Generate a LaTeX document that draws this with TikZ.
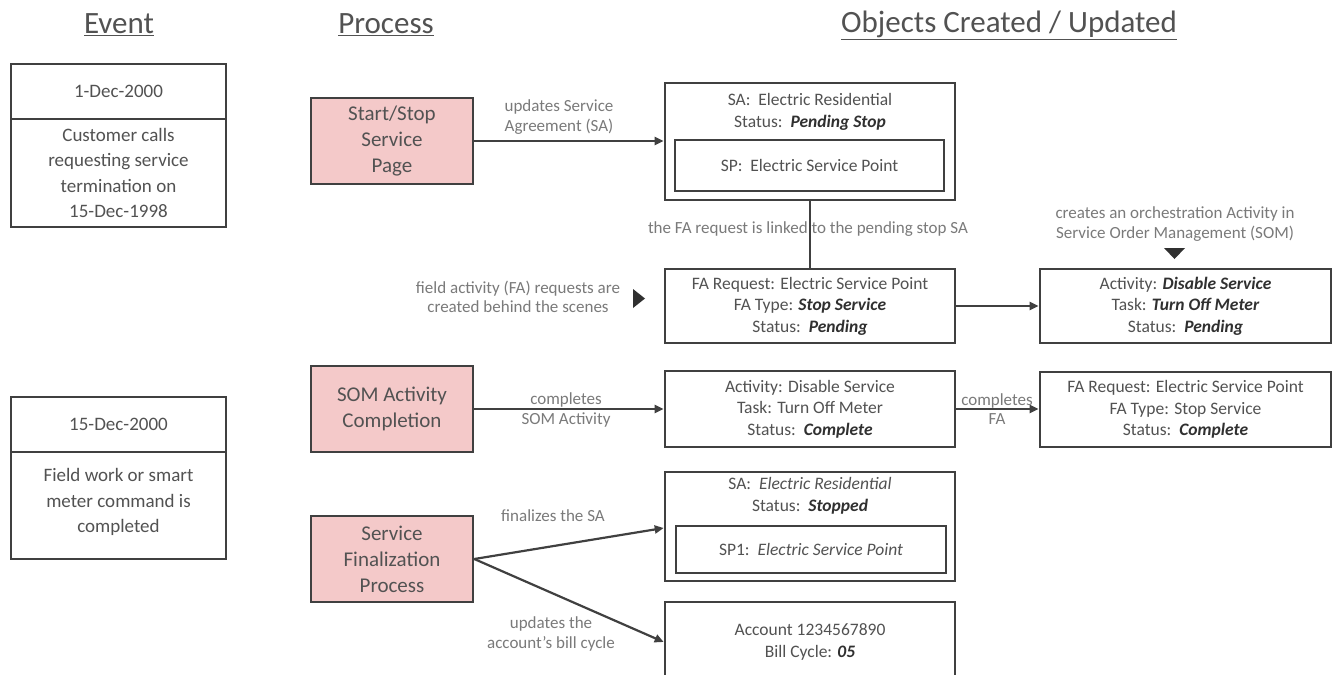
\documentclass[tikz,border=0pt]{standalone}
\usepackage{fontspec}
\setmainfont{Carlito}
\usetikzlibrary{arrows.meta,calc}
\definecolor{pinkfill}{HTML}{F4C9C9}
\definecolor{edgegray}{HTML}{404040}
\definecolor{txtgray}{HTML}{525252}
\definecolor{lblgray}{HTML}{7A7A7A}
\definecolor{darkgray}{HTML}{303030}
\newcommand{\hiit}[1]{\textcolor{darkgray}{\textbf{\textit{#1}}}}
\begin{document}
\begin{tikzpicture}[x=1pt,y=-1pt,
  box/.style={draw=edgegray, line width=2.6pt, rectangle, inner sep=0pt, align=center, text=txtgray},
  evbox/.style={box, minimum width=215pt, font=\fontsize{19}{25.5}\selectfont},
  procbox/.style={box, fill=pinkfill, minimum width=162pt, minimum height=86pt, font=\fontsize{21}{26}\selectfont},
  objbox/.style={box, minimum width=290pt, font=\fontsize{17.5}{21.5}\selectfont},
  objtext/.style={text=txtgray, align=center, inner sep=0pt, font=\fontsize{17.5}{22}\selectfont},
  lbltext/.style={text=lblgray, align=center, inner sep=0pt, font=\fontsize{17}{19.5}\selectfont},
  titletext/.style={text=txtgray, inner sep=0pt, font=\fontsize{31}{36}\selectfont},
  conn/.style={draw=edgegray, line width=2.2pt, -{Triangle[length=9pt,width=8pt]}},
  linkline/.style={draw=edgegray, line width=2.2pt},
  tipmarker/.style={fill=darkgray, draw=none}
]
\clip (0,0) rectangle (1337,674);
\fill[white] (0,0) rectangle (1337,674);

% titles
\node[titletext] (tev) at (119,25) {\underline{Event}};
\node[titletext] (tpr) at (386,25) {\underline{Process}};
\node[titletext] (tob) at (1009,25) {\underline{Objects Created / Updated}};

% events
\node[evbox, minimum height=55pt] (ev1d) at (118.5,91.5) {1-Dec-2000};
\node[evbox, minimum height=108pt] (ev1b) at (118.5,173) {Customer calls\\requesting service\\termination on\\15-Dec-1998};
\node[evbox, minimum height=55pt] (ev2d) at (118.5,424.5) {15-Dec-2000};
\node[evbox, minimum height=107pt] (ev2b) at (118.5,505.5) {Field work or smart\\meter command is\\completed\\[-15.5pt]};

% processes
\node[procbox] (ss) at (392,141) {Start/Stop\\Service\\Page};
\node[procbox] (som) at (392,409) {SOM Activity\\Completion};
\node[procbox] (sf) at (392,559) {Service\\Finalization\\Process};

% objects row 1
\node[objbox, minimum height=117pt] (sa) at (810,141.5) {};
\node[objtext] (satxt) at (810,112) {SA:\ \ Electric Residential\\Status:\ \ \hiit{Pending Stop}};
\node[objbox, minimum width=269pt, minimum height=51pt] (sp) at (809.5,165.5) {SP:\ \ Electric Service Point};

\node[objbox, minimum height=74pt] (fa) at (810,306) {FA Request: Electric Service Point\\FA Type: \hiit{Stop Service}\\Status:\ \ \hiit{Pending}};
\node[objbox, minimum width=291pt, minimum height=74pt] (actp) at (1185.5,306) {Activity: \hiit{Disable Service}\\Task: \hiit{Turn Off Meter}\\Status:\ \ \hiit{Pending}};

% row 2
\node[objbox, minimum height=76pt] (actc) at (810,409) {Activity: Disable Service\\Task: Turn Off Meter\\Status:\ \ \hiit{Complete}};
\node[objbox, minimum width=291pt, minimum height=75pt] (fac) at (1185.5,409.5) {FA Request: Electric Service Point\\FA Type: Stop Service\\Status:\ \ \hiit{Complete}};

% row 3
\node[objbox, minimum height=109pt] (sas) at (810,526.5) {};
\node[objtext] (sastxt) at (810,496) {SA:\ \ \textit{Electric Residential}\\Status:\ \ \hiit{Stopped}};
\node[objbox, minimum width=270pt, minimum height=47pt] (sp1) at (811,549.5) {SP1:\ \ \textit{Electric Service Point}};

\node[objbox, minimum height=80pt] (acct) at (810,642) {Account 1234567890\\Bill Cycle: \hiit{05}};

% connectors
\draw[conn] (ss.east) -- (ss.east -| sa.west);
\draw[linkline] (sa.south) -- (fa.north);
\draw[conn] (fa.east) -- (actp.west);
\draw[conn] (som.east) -- (som.east -| actc.west);
\draw[conn] (actc.east) -- (fac.west |- actc.east);
\coordinate (sfout) at ($(sf.east)+(0,0)$);
\coordinate (sasin) at ($(sas.west)+(0,1.5)$);
\draw[conn] (sfout) -- (sasin);
\draw[conn] (sfout) -- (acct.west);

% labels
\node[lbltext] (l1) at (559,117) {updates Service\\Agreement (SA)};
\node[lbltext] (l2) at (808,229) {the FA request is linked to the pending stop SA};
\node[lbltext] (l3) at (518,297) {field activity (FA) requests are\\created behind the scenes};
\node[lbltext] (l4) at (1175,224) {creates an orchestration Activity in\\Service Order Management (SOM)};
\node[lbltext] (l5) at (566,410) {completes\\SOM Activity};
\node[lbltext] (l6) at (997,409) {completes\\FA};
\node[lbltext] (l7) at (553,516) {finalizes the SA};
\node[lbltext] (l8) at (551,634) {updates the\\account’s bill cycle};

% markers
\fill[tipmarker] (633,289) -- (645,298.5) -- (633,308) -- cycle;
\fill[tipmarker] (1164,248) -- (1185,248) -- (1174.5,259) -- cycle;
\end{tikzpicture}
\end{document}
